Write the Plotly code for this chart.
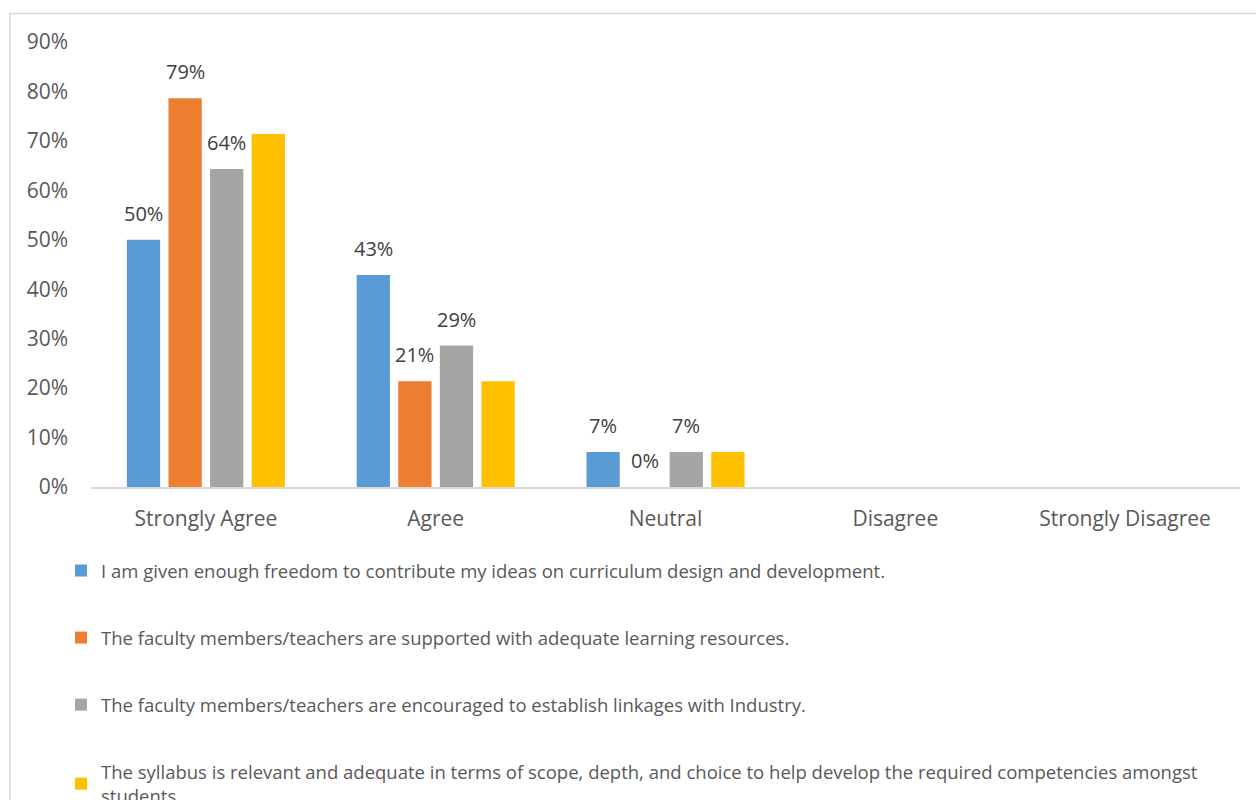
import plotly.graph_objects as go

categories = ["Strongly Agree", "Agree", "Neutral", "Disagree", "Strongly Disagree"]

series_names = [
    "I am given enough freedom to contribute my ideas on curriculum design and development.",
    "The faculty members/teachers are supported with adequate learning resources.",
    "The faculty members/teachers are encouraged to establish linkages with Industry.",
    "The syllabus is relevant and adequate in terms of scope, depth, and choice to help develop the required competencies amongst<br>students",
]

freedom_values = [0.500, 0.429, 0.071, None, None]
resources_values = [0.786, 0.214, 0.000, None, None]
industry_values = [0.643, 0.286, 0.071, None, None]
syllabus_values = [0.714, 0.214, 0.071, None, None]

series_values = [freedom_values, resources_values, industry_values, syllabus_values]
show_labels = [True, True, True, False]
colors = ["#5B9BD5", "#ED7D31", "#A5A5A5", "#FFC000"]

FONT = "Open Sans"
TEXT_COLOR = "#595959"
LABEL_COLOR = "#404040"

W, H = 1256, 800
ML, MR, MT, MB = 91, 16, 42, 313
plot_w = W - ML - MR
plot_h = H - MT - MB

BARGAP = 0.276
BARGROUPGAP = 0.2
n_series = len(series_values)
slot = (1 - BARGAP) / n_series

fig = go.Figure()
annotations = []
for i, (name, vals, lab, col) in enumerate(zip(series_names, series_values, show_labels, colors)):
    fig.add_trace(go.Bar(
        x=categories,
        y=vals,
        name=name,
        marker=dict(color=col, line=dict(width=0)),
        legendgroup=f"g{i}",
        hoverinfo="skip",
    ))
    if not lab:
        continue
    # value labels sit above each bar of the series
    offset = (i - (n_series - 1) / 2) * slot
    for j, v in enumerate(vals):
        if v is None:
            continue
        annotations.append(dict(
            x=j + offset, y=v, xref="x", yref="y",
            text=f"{v:.0%}", showarrow=False,
            xanchor="center", yanchor="bottom", yshift=11,
            font=dict(family=FONT, size=20, color=LABEL_COLOR),
        ))

# light frame around the chart area
fig.add_shape(
    type="rect", xref="paper", yref="paper",
    x0=(10 - ML) / plot_w, x1=1.05,
    y0=-1.0, y1=(MT + plot_h - 13.5) / plot_h,
    line=dict(color="#D9D9D9", width=1.5),
    fillcolor="rgba(0,0,0,0)", layer="below",
)

fig.update_layout(
    width=W, height=H,
    margin=dict(l=ML, r=MR, t=MT, b=MB, autoexpand=False),
    paper_bgcolor="white",
    plot_bgcolor="white",
    barmode="group",
    bargap=BARGAP,
    bargroupgap=BARGROUPGAP,
    font=dict(family=FONT, size=20, color=TEXT_COLOR),
    annotations=annotations,
    legend=dict(
        orientation="v",
        x=(61 - ML) / plot_w, xanchor="left",
        y=(MT + plot_h - 552) / plot_h, yanchor="top",
        tracegroupgap=40,
        font=dict(family=FONT, size=18.5, color=TEXT_COLOR),
        traceorder="grouped",
        bgcolor="rgba(0,0,0,0)",
    ),
    xaxis=dict(
        showline=True, linecolor="#D9D9D9", linewidth=1.5,
        showgrid=False, ticks="", ticklabelstandoff=12,
        tickfont=dict(family=FONT, size=21, color=TEXT_COLOR),
        fixedrange=True,
    ),
    yaxis=dict(
        range=[0, 0.9], dtick=0.1, tickformat=".0%",
        showgrid=False, zeroline=False, showline=False, ticks="",
        ticklabelstandoff=22,
        tickfont=dict(family=FONT, size=21, color=TEXT_COLOR),
        fixedrange=True,
    ),
)

fig.write_html("out.html")
